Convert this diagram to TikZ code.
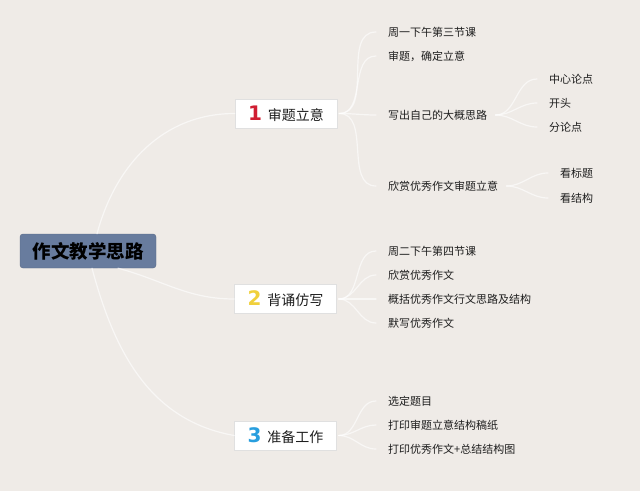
\documentclass[tikz,border=0pt]{standalone}
\usepackage{fontspec}
\setmainfont{Noto Sans CJK SC}
\newfontfamily\numfont{DejaVu Sans}
\definecolor{bg}{RGB}{239,235,231}
\definecolor{rootfill}{RGB}{104,124,158}
\definecolor{numred}{RGB}{208,30,50}
\definecolor{numyellow}{RGB}{240,208,60}
\definecolor{numblue}{RGB}{40,158,222}
\definecolor{txt}{RGB}{30,30,30}
\begin{document}
\begin{tikzpicture}[x=1pt,y=1pt,
  rootbox/.style={fill=rootfill,draw=rootfill!85!black,rounded corners=3pt,minimum width=136pt,minimum height=34pt,inner sep=0pt,font=\fontsize{18.5}{20}\selectfont\bfseries,text=black},
  branchbox/.style={fill=white,draw=black!12,minimum width=102pt,minimum height=29pt,inner sep=0pt,font=\fontsize{14}{16}\selectfont,text=txt},
  numstyle/.style={},
  leaf/.style={anchor=west,inner sep=0pt,font=\fontsize{11}{13}\selectfont,text=txt},
  conn/.style={draw=white,line width=1.2pt,opacity=0.6,line cap=round}]
\fill[bg] (0,0) rectangle (640,491);
\useasboundingbox (0,0) rectangle (640,491);
% root
\node[rootbox] (root) at (88,240) {作文教学思路};
% branches
\node[branchbox] (b1) at (286,377.5) {{\numfont\bfseries\fontsize{20}{20}\selectfont\color{numred}1}\hspace{6pt}审题立意};
\node[branchbox] (b2) at (285.5,192) {{\numfont\bfseries\fontsize{20}{20}\selectfont\color{numyellow}2}\hspace{6pt}背诵仿写};
\node[branchbox] (b3) at (285.5,55.5) {{\numfont\bfseries\fontsize{20}{20}\selectfont\color{numblue}3}\hspace{6pt}准备工作};
% leaves of branch 1
\node[leaf] (l11) at (388,459) {周一下午第三节课};
\node[leaf] (l12) at (388,435) {审题，确定立意};
\node[leaf] (l13) at (388,376) {写出自己的大概思路};
\node[leaf] (l14) at (388,305) {欣赏优秀作文审题立意};
\node[leaf] (s1) at (549,412) {中心论点};
\node[leaf] (s2) at (549,388) {开头};
\node[leaf] (s3) at (549,364) {分论点};
\node[leaf] (t1) at (560,318) {看标题};
\node[leaf] (t2) at (560,293) {看结构};
% leaves of branch 2
\node[leaf] (l21) at (388,240) {周二下午第四节课};
\node[leaf] (l22) at (388,216) {欣赏优秀作文};
\node[leaf] (l23) at (388,192) {概括优秀作文行文思路及结构};
\node[leaf] (l24) at (388,168) {默写优秀作文};
% leaves of branch 3
\node[leaf] (l31) at (388,90) {选定题目};
\node[leaf] (l32) at (388,66) {打印审题立意结构稿纸};
\node[leaf] (l33) at (388,42) {打印优秀作文+总结结构图};
% connectors root -> branches
\draw[conn] ([xshift=9pt]root.north) to[out=75,in=180] (b1.west);
\draw[conn] ([xshift=30pt]root.south) to[out=-15,in=180] (b2.west);
\draw[conn] ([xshift=4pt]root.south) to[out=-75,in=170] (b3.west);
% connectors branch -> leaves
\foreach \l in {l11,l12,l13,l14}
  \draw[conn] ([xshift=2pt]b1.east) to[out=0,in=180] ([xshift=-12pt]\l.west);
\foreach \l in {l21,l22,l23,l24}
  \draw[conn] ([xshift=2pt]b2.east) to[out=0,in=180] ([xshift=-12pt]\l.west);
\foreach \l in {l31,l32,l33}
  \draw[conn] ([xshift=2pt]b3.east) to[out=0,in=180] ([xshift=-12pt]\l.west);
\foreach \l in {s1,s2,s3}
  \draw[conn] ([xshift=8pt]l13.east) to[out=0,in=180] ([xshift=-12pt]\l.west);
\foreach \l in {t1,t2}
  \draw[conn] ([xshift=8pt]l14.east) to[out=0,in=180] ([xshift=-12pt]\l.west);
\end{tikzpicture}
\end{document}
